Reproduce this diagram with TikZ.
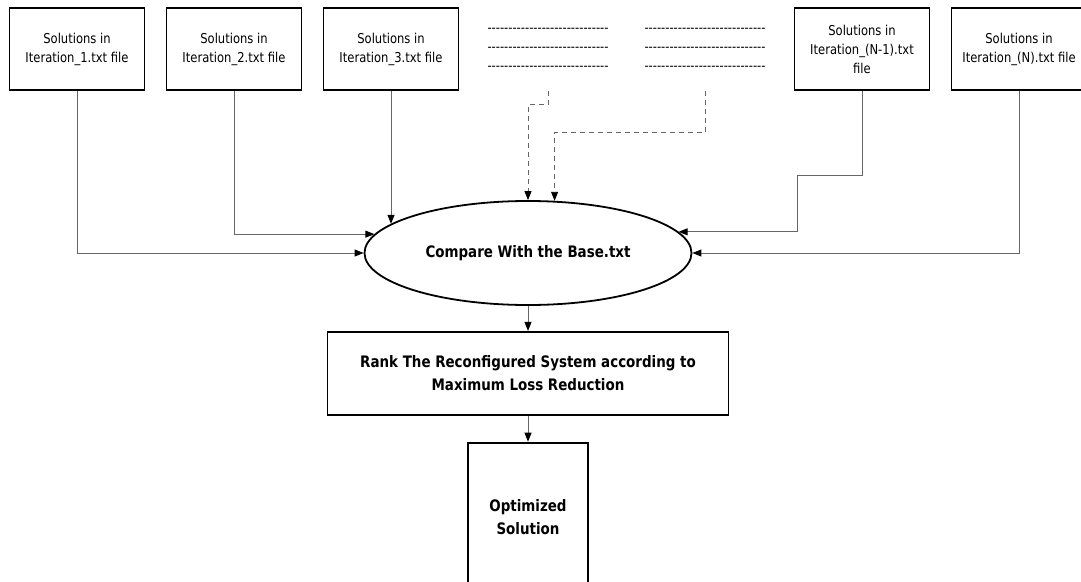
\documentclass[tikz,border=0pt]{standalone}
\usepackage{fontspec}
\setmainfont{DejaVu Sans}[FakeStretch=0.85]
\newfontfamily\dashfont{DejaVu Sans}[FakeStretch=0.85, Ligatures=TeXOff]
\usepackage{tikz}
\usetikzlibrary{arrows.meta, positioning, shapes.geometric}
\newcommand{\dashrow}{-----------------------------}
\tikzset{%
	file box/.style={
		rectangle,
		draw=black,
		line width=1.8pt,
		minimum width=135pt,
		minimum height=82pt,
		inner sep=0pt,
		align=center,
		font=\fontsize{13.6}{19}\selectfont
	},
	dash box/.style={
		file box,
		draw=none,
		font=\dashfont\fontsize{13.6}{19}\selectfont
	},
	compare/.style={
		ellipse,
		draw=black,
		line width=1.8pt,
		minimum width=327pt,
		minimum height=104pt,
		inner sep=0pt,
		font=\bfseries\fontsize{15.8}{23}\selectfont
	},
	rank box/.style={
		file box,
		minimum width=401pt,
		minimum height=83pt,
		font=\bfseries\fontsize{15.8}{23}\selectfont
	},
	result box/.style={
		rank box,
		minimum width=120pt,
		minimum height=150pt
	},
	link/.style={
		draw=black!60,
		line width=0.9pt,
		-{Triangle[length=9pt, width=7pt, color=black]}
	},
	dashed link/.style={
		link,
		dash pattern=on 5pt off 4pt
	},
}

\begin{document}
\begin{tikzpicture}[
		x=1pt, y=-1pt,
		node distance=20.2pt
		]
		\useasboundingbox (0,0) rectangle (1081,581);

		\node[file box] (iter1) at (77,49) {Solutions in\\Iteration\_1.txt file};
		\node[file box, right=of iter1] (iter2) {Solutions in\\Iteration\_2.txt file};
		\node[file box, right=of iter2] (iter3) {Solutions in\\Iteration\_3.txt file};
		\node[dash box, right=of iter3] (dotsA) {\dashrow\\\dashrow\\\dashrow};
		\node[dash box, right=of dotsA] (dotsB) {\dashrow\\\dashrow\\\dashrow};
		\node[file box, right=of dotsB] (iterM) {Solutions in\\Iteration\_(N-1).txt\\file};
		\node[file box, right=of iterM] (iterN) {Solutions in\\Iteration\_(N).txt file};

		\node[compare] (base) at (528,253) {Compare With the Base.txt};
		\node[rank box, below=25pt of base] (rank) {Rank The Reconfigured System according to\\Maximum Loss Reduction};
		\node[result box, below=26pt of rank] (result) {Optimized\\Solution};

		\draw[link] (iter1.south) |- (base.west);
		\draw[link] (iter2.south) |- (base.173);
		\draw[link] (iter3.south) -- (iter3.south |- base.168);
		\draw[dashed link] (dotsA.south) -- ++(0,14) -| (base.north);
		\draw[dashed link] (dotsB.south) -- ++(0,42) -| (base.63);
		\draw[link] (iterM.south) -- ++(0,85) -- ++(-65,0) |- (base.8);
		\draw[link] (iterN.south) |- (base.east);
		\draw[link] (base) -- (rank);
		\draw[link] (rank) -- (result);
	\end{tikzpicture}
\end{document}
